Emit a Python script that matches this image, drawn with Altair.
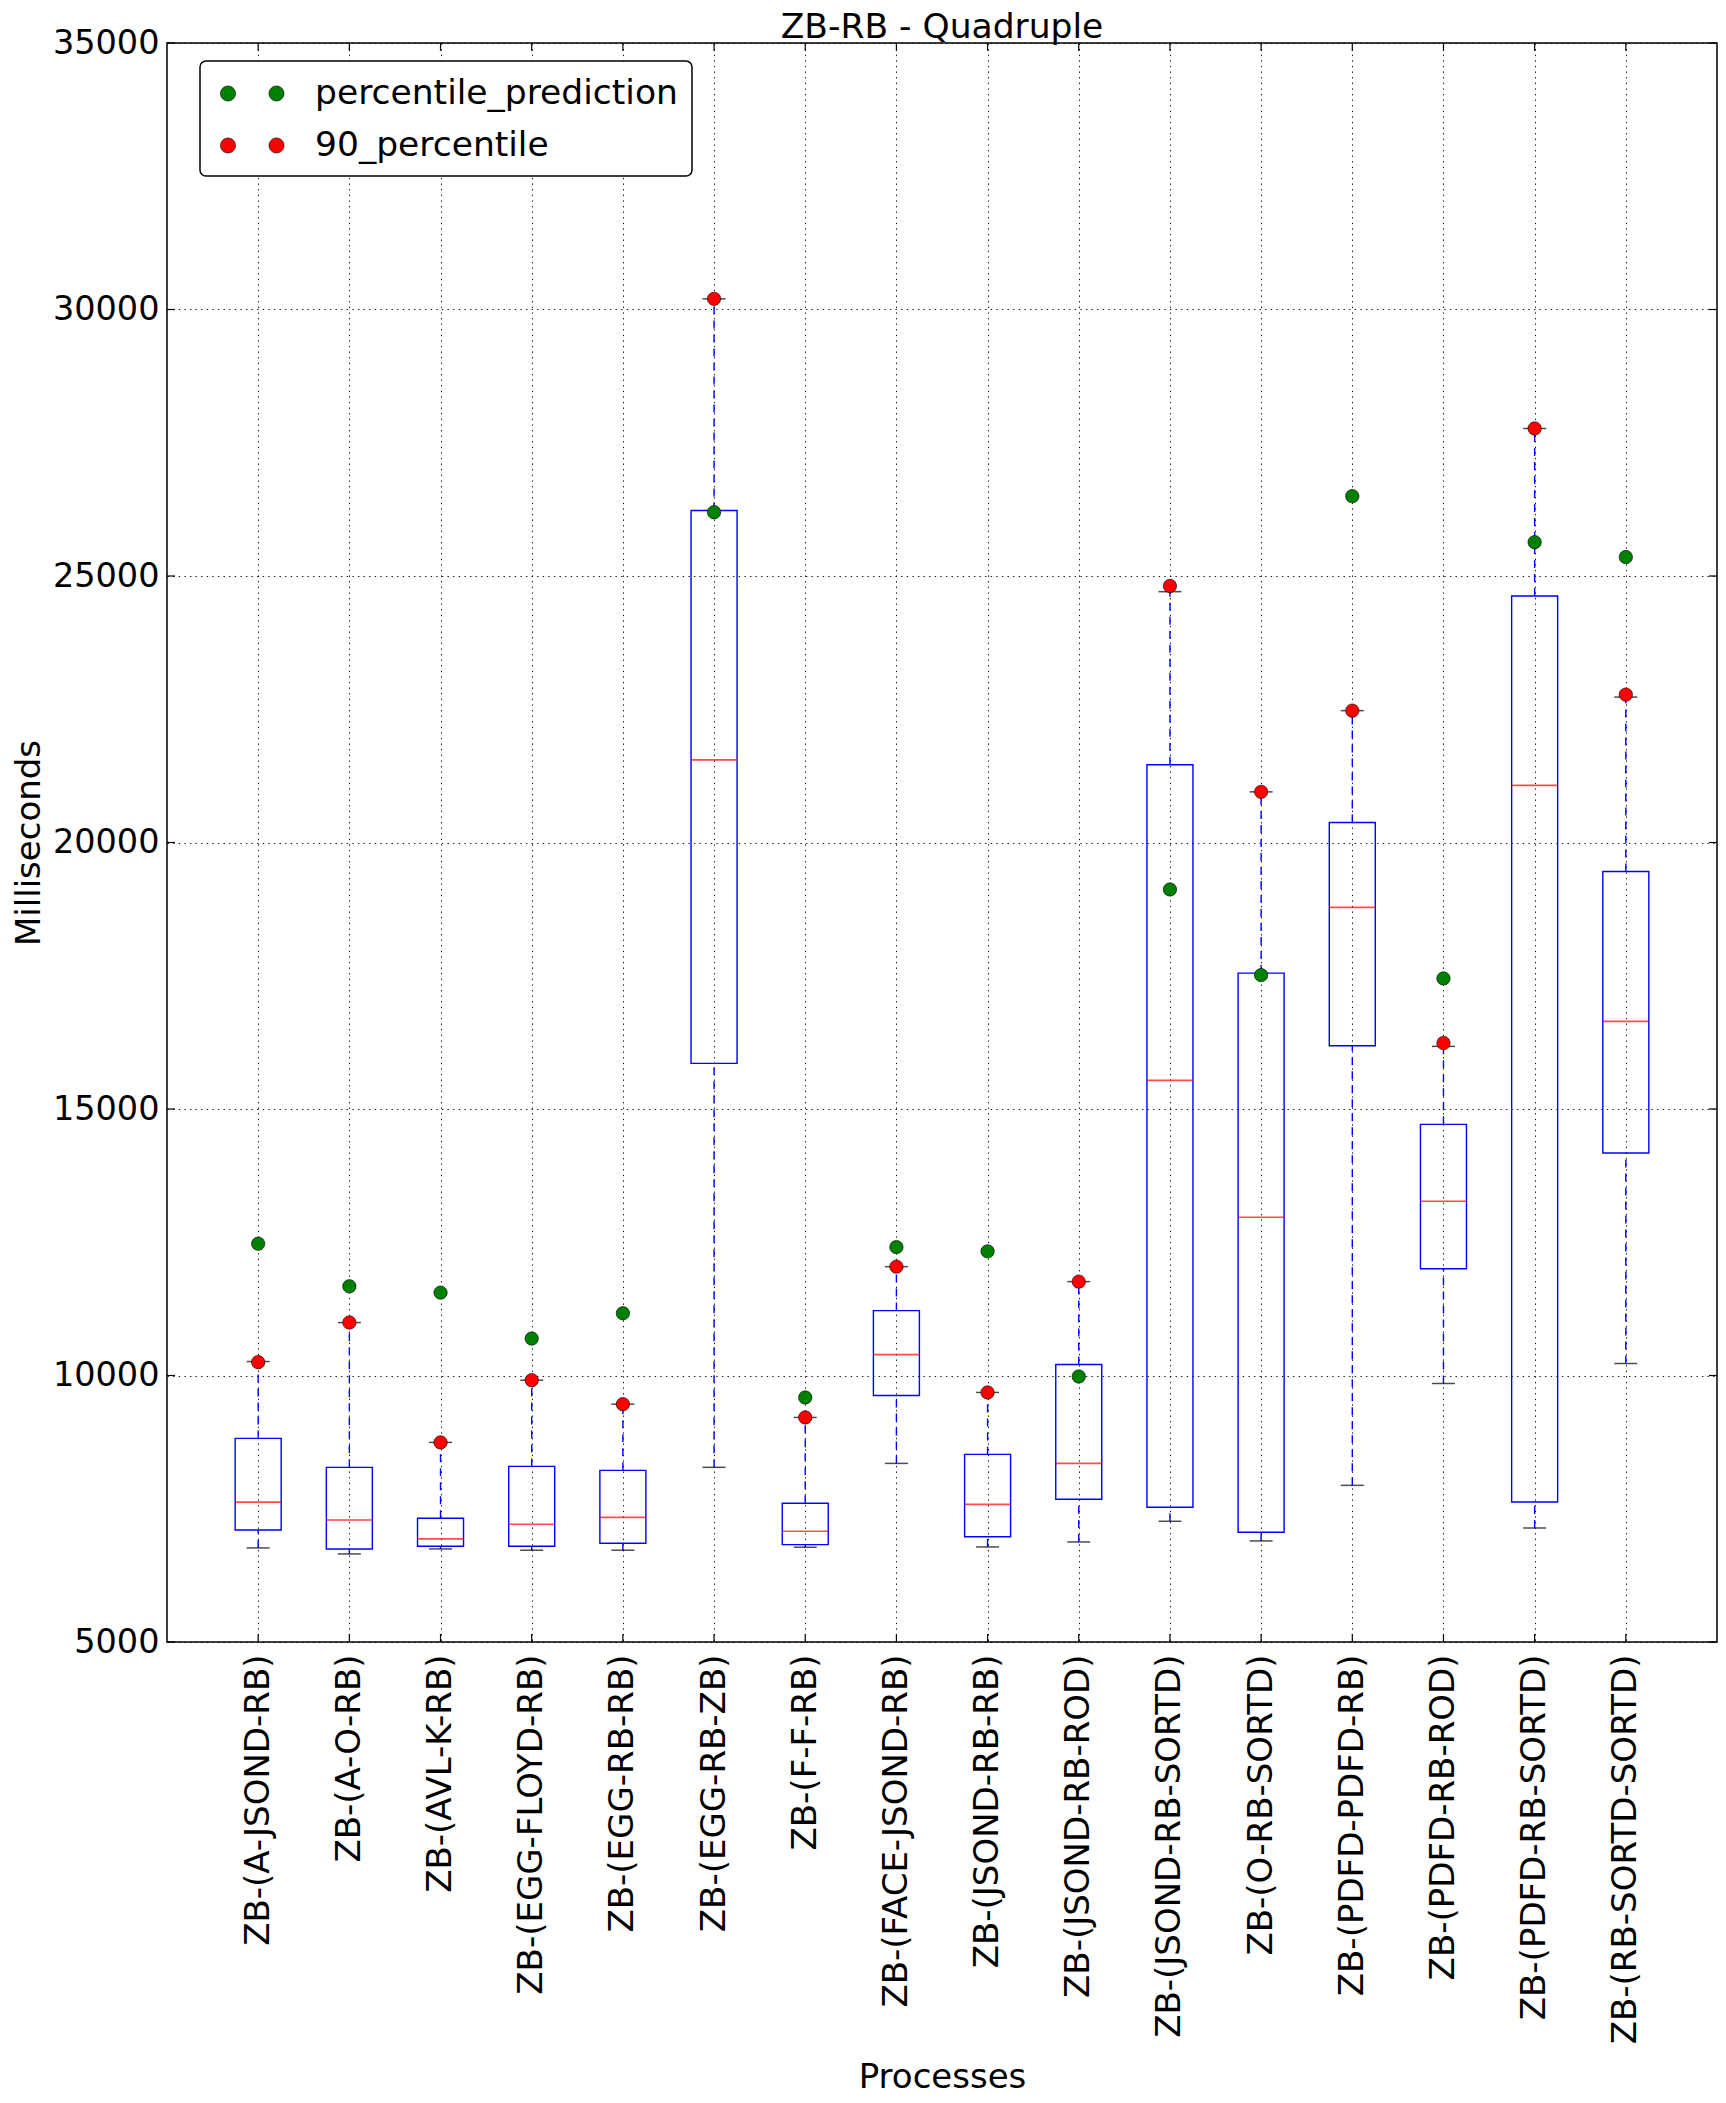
import altair as alt
import pandas as pd

categories = [
    "ZB-(A-JSOND-RB)", "ZB-(A-O-RB)", "ZB-(AVL-K-RB)", "ZB-(EGG-FLOYD-RB)",
    "ZB-(EGG-RB-RB)", "ZB-(EGG-RB-ZB)", "ZB-(F-F-RB)", "ZB-(FACE-JSOND-RB)",
    "ZB-(JSOND-RB-RB)", "ZB-(JSOND-RB-ROD)", "ZB-(JSOND-RB-SORTD)", "ZB-(O-RB-SORTD)",
    "ZB-(PDFD-PDFD-RB)", "ZB-(PDFD-RB-ROD)", "ZB-(PDFD-RB-SORTD)", "ZB-(RB-SORTD-SORTD)",
]
lower_whisker = [6765, 6652, 6746, 6722, 6722, 8277, 6778, 8351, 6783, 6877, 7265, 6896, 7939, 9850, 7139, 10225]
q1 = [7102, 6746, 6797, 6797, 6853, 15856, 6827, 9625, 6975, 7677, 7527, 7059, 16187, 12004, 7626, 14175]
median = [7626, 7289, 6933, 7209, 7340, 21551, 7078, 10393, 7583, 8351, 15537, 12969, 18781, 13269, 21070, 16644]
q3 = [8820, 8277, 7321, 8295, 8220, 26230, 7602, 11218, 8520, 10206, 21458, 17550, 20375, 14712, 24626, 19456]
upper_whisker = [10262, 10993, 8745, 9912, 9462, 30200, 9213, 12042, 9682, 11761, 24706, 20950, 22474, 16175, 27768, 22728]
ninety_percentile = [10250, 10993, 8745, 9912, 9462, 30200, 9213, 12042, 9682, 11761, 24813, 20950, 22474, 16237, 27768, 22775]
percentile_prediction = [12473, 11673, 11555, 10693, 11167, 26197, 9588, 12409, 12329, 9981, 19119, 17512, 26498, 17450, 25635, 25355]
y_ticks = [5000, 10000, 15000, 20000, 25000, 30000, 35000]
series_names = ["percentile_prediction", "90_percentile"]
series_colors = ["#008000", "#ff0000"]

W = 1550
H = 1599
FONT = "DejaVu Sans"
BLUE = "#0000ff"

box_df = pd.DataFrame({
    "category": categories, "lw": lower_whisker, "q1": q1, "med": median,
    "q3": q3, "uw": upper_whisker,
})
pts_df = pd.DataFrame({
    "category": categories * 2,
    "series": [series_names[0]] * len(categories) + [series_names[1]] * len(categories),
    "value": percentile_prediction + ninety_percentile,
})
tick_df = pd.DataFrame({"v": y_ticks})

x_axis = alt.Axis(
    title="Processes", labelAngle=270, labelFontSize=34, labelFont=FONT,
    labelPadding=12, labelLimit=1000, ticks=False, domain=False, grid=True,
    gridColor="black", gridDash=[1.4, 4.2], gridWidth=1, gridOpacity=0.9,
    titleFontSize=34, titleFont=FONT, titleFontWeight="normal",
    titleBaseline="alphabetic", titleY=445,
    labelColor="black", titleColor="black",
)
y_axis = alt.Axis(
    title="Milliseconds", values=y_ticks, labelFontSize=33.5, labelFont=FONT,
    labelPadding=8, ticks=False, domain=False, grid=True, gridColor="black",
    gridDash=[1.4, 4.2], gridWidth=1, gridOpacity=0.9, titleFontSize=34,
    titleFont=FONT, titleFontWeight="normal", titlePadding=6, labelColor="black",
    titleColor="black", format="d", labelFlush=False,
)
x_enc = alt.X("category:N", sort=categories, scale=alt.Scale(type="point", padding=1), axis=x_axis)
y_scale = alt.Scale(domain=[5000, 35000], nice=False, zero=False)


def Y(field):
    return alt.Y(field, scale=y_scale, axis=y_axis)


boxes = alt.Chart(box_df).mark_bar(
    size=46, fill="transparent", stroke=BLUE, strokeWidth=1.4
).encode(x=x_enc, y=Y("q1:Q"), y2="q3:Q")

whisk_up = alt.Chart(box_df).mark_rule(
    color=BLUE, strokeDash=[8, 6], strokeWidth=1.4
).encode(x=x_enc, y=Y("q3:Q"), y2="uw:Q")

whisk_lo = alt.Chart(box_df).mark_rule(
    color=BLUE, strokeDash=[8, 6], strokeWidth=1.4
).encode(x=x_enc, y=Y("lw:Q"), y2="q1:Q")

cap_lo = alt.Chart(box_df).mark_tick(size=23, thickness=1.5, color="black").encode(x=x_enc, y=Y("lw:Q"))
cap_up = alt.Chart(box_df).mark_tick(size=23, thickness=1.5, color="black").encode(x=x_enc, y=Y("uw:Q"))
med = alt.Chart(box_df).mark_tick(size=46, thickness=1.7, color="#ff0000").encode(x=x_enc, y=Y("med:Q"))

# two-dot legend symbol (custom path, units scaled by sqrt(size)/2)
two_dots = (
    "M -0.6667,0 A 0.4167,0.4167 0 1,0 0.1667,0 A 0.4167,0.4167 0 1,0 -0.6667,0 Z "
    "M 2.0277,0 A 0.4167,0.4167 0 1,0 2.8611,0 A 0.4167,0.4167 0 1,0 2.0277,0 Z"
)

points = alt.Chart(pts_df).mark_circle(
    size=180, opacity=1, stroke="black", strokeWidth=0.6
).encode(
    x=x_enc,
    y=Y("value:Q"),
    color=alt.Color(
        "series:N",
        scale=alt.Scale(domain=series_names, range=series_colors),
        legend=alt.Legend(
            title=None, orient="none", legendX=33, legendY=18, direction="vertical",
            symbolType=two_dots, symbolSize=1296, symbolStrokeColor="black",
            symbolStrokeWidth=0.6, symbolOpacity=1, labelFontSize=34.5, labelFont=FONT,
            labelColor="black", labelOffset=64, labelLimit=1000,
            fillColor="white", strokeColor="black", cornerRadius=6,
        ),
    ),
)

ytick_l = alt.Chart(tick_df).mark_rule(color="black", strokeWidth=1.2).encode(
    y=Y("v:Q"), x=alt.value(0), x2=alt.value(8))
ytick_r = alt.Chart(tick_df).mark_rule(color="black", strokeWidth=1.2).encode(
    y=Y("v:Q"), x=alt.value(W - 8), x2=alt.value(W))
xtick_b = alt.Chart(box_df).mark_rule(color="black", strokeWidth=1.2).encode(
    x=x_enc, y=alt.value(H), y2=alt.value(H - 8))
xtick_t = alt.Chart(box_df).mark_rule(color="black", strokeWidth=1.2).encode(
    x=x_enc, y=alt.value(0), y2=alt.value(8))

chart = alt.layer(
    ytick_l, ytick_r, xtick_b, xtick_t,
    whisk_up, whisk_lo, boxes, cap_lo, cap_up, med, points,
).properties(
    width=W, height=H,
    autosize=alt.AutoSizeParams(type="none"),
    padding={"left": 159, "top": 35, "right": 1, "bottom": 453},
    title=alt.TitleParams(
        text="ZB-RB - Quadruple", fontSize=34.5, font=FONT, fontWeight="normal",
        anchor="middle", frame="group", offset=-46, baseline="alphabetic", color="black",
    ),
).configure(font=FONT, background="white").configure_view(
    stroke="black", strokeWidth=1.5
).configure_legend(padding=14, rowPadding=17, strokeWidth=1.5)

chart.save("out.html", embed_options={"renderer": "svg", "actions": False})
